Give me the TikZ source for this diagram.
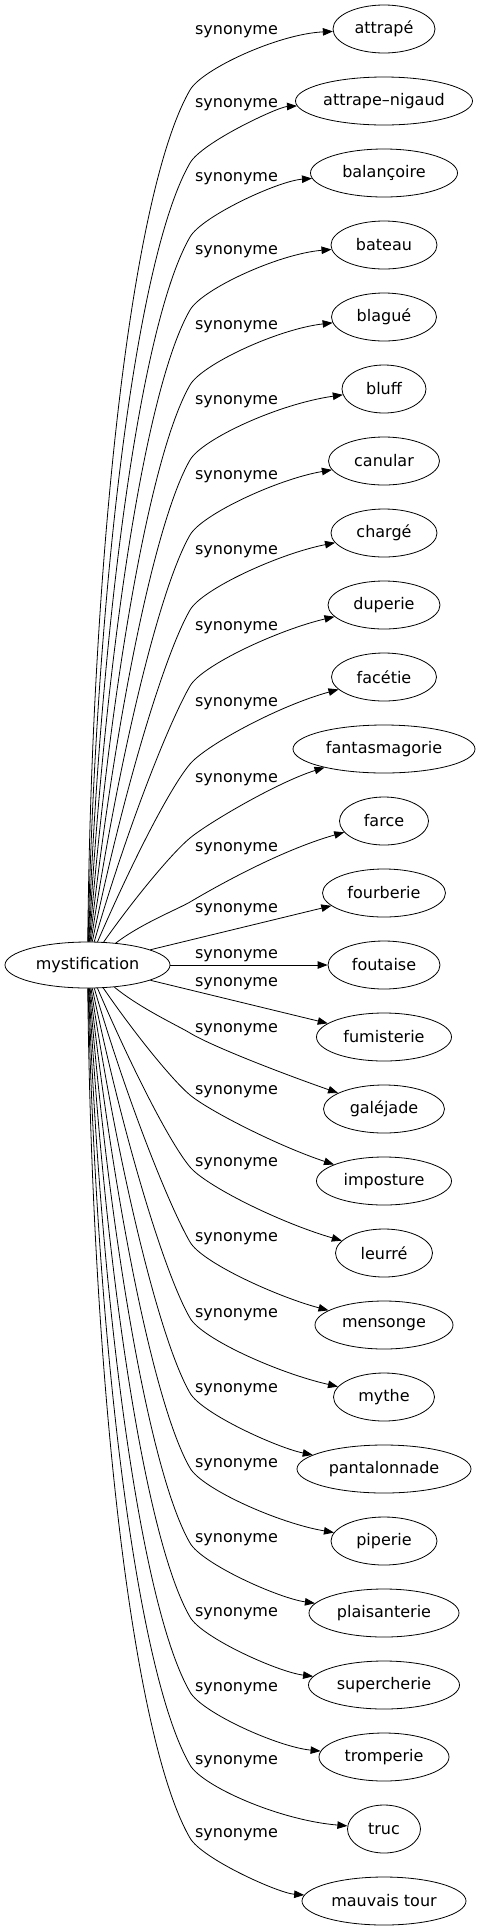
\documentclass[tikz,border=0pt]{standalone}
\usepackage{fontspec}
\setmainfont{DejaVu Sans}
\usetikzlibrary{arrows.meta,shapes.geometric}
\begin{document}
\begin{tikzpicture}[x=1pt,y=-1pt,
  every node/.style={font=\fontsize{16}{19}\selectfont},
  word/.style={draw, ellipse, inner sep=0pt, minimum height=48pt, line width=0.8pt},
  rel/.style={draw, line width=0.8pt, -{Triangle[length=10pt,width=7.5pt]}},
  lbl/.style={anchor=base, inner sep=0pt}]
\useasboundingbox (0,0) rectangle (479,1931);
\node[word, minimum width=165pt, minimum height=46pt] (m) at (87.5,965) {mystification};
\foreach \i/\w/\txt in {1/102/attrapé, 2/177/attrape–nigaud, 3/147/balançoire, 4/106/bateau,
  5/105/blagué, 6/84/bluff, 7/111/canular, 8/106/chargé, 9/112/duperie, 10/105/facétie,
  11/182/fantasmagorie, 12/89/farce, 13/123/fourberie, 14/112/foutaise, 15/135/fumisterie,
  16/121/galéjade, 17/135/imposture, 18/97/leurré, 19/138/mensonge, 20/101/mythe,
  21/174/pantalonnade, 22/106/piperie, 23/150/plaisanterie, 24/151/supercherie,
  25/130/tromperie, 26/73/truc, 27/164/mauvais tour} {
  \pgfmathsetmacro\ty{29+72*(\i-1)}
  \node[word, minimum width=\w pt] (t\i) at (384,\ty) {\txt};
}
% upper edges
\foreach \i/\lab/\off in {1/30/60, 2/103/60, 3/177/60, 4/250/60, 5/325/60, 6/400/60,
  7/475/60, 8/550/60, 9/626/60, 10/702/62, 11/778/60, 12/847/55} {
  \pgfmathsetmacro\Ky{\lab+\off}
  \pgfmathsetmacro\spn{942-\Ky}
  \pgfmathsetmacro\ff{min(1,\spn/250)}
  \pgfmathsetmacro\ang{25+35*\ff}
  \pgfmathsetmacro\ka{8+0.13*\spn}
  \pgfmathsetmacro\cax{90+0.06*(880-\spn)}
  \pgfmathsetmacro\cay{942-0.45*\spn}
  \pgfmathsetmacro\cbx{190-\ka*cos(\ang)}
  \pgfmathsetmacro\cby{\Ky+\ka*sin(\ang)}
  \pgfmathsetmacro\ccx{190+24*cos(\ang)}
  \pgfmathsetmacro\ccy{\Ky-24*sin(\ang)}
  \pgfmathsetmacro\qy{\lab+4}
  \draw[rel] (m) .. controls (\cax,\cay) and (\cbx,\cby) .. (190,\Ky)
     .. controls (\ccx,\ccy) and (278,\qy) .. (t\i);
  \node[lbl] (l\i) at (236.5,\lab+4.5) {synonyme};
}
% middle edges
\draw[rel] (m) -- (t13);
\node[lbl] (l13) at (236.5,912.5) {synonyme};
\draw[rel] (m) -- (t14);
\node[lbl] (l14) at (236.5,958.5) {synonyme};
\draw[rel] (m) -- (t15);
\node[lbl] (l15) at (236.5,986.5) {synonyme};
% lower edges
\foreach \i/\lab/\qo in {16/1028/44, 17/1090/56, 18/1162/60, 19/1237/60, 20/1313/60,
  21/1388/60, 22/1463/60, 23/1538/60, 24/1612/60, 25/1687/60, 26/1760/60, 27/1833/60} {
  \pgfmathsetmacro\Ky{\lab+5}
  \pgfmathsetmacro\spn{\Ky-988}
  \pgfmathsetmacro\ff{min(1,\spn/250)}
  \pgfmathsetmacro\ang{25+35*\ff}
  \pgfmathsetmacro\ka{8+0.13*\spn}
  \pgfmathsetmacro\cax{90+0.06*(880-\spn)}
  \pgfmathsetmacro\cay{988+0.45*\spn}
  \pgfmathsetmacro\cbx{190-\ka*cos(\ang)}
  \pgfmathsetmacro\cby{\Ky-\ka*sin(\ang)}
  \pgfmathsetmacro\ccx{190+24*cos(\ang)}
  \pgfmathsetmacro\ccy{\Ky+24*sin(\ang)}
  \pgfmathsetmacro\qy{\lab+\qo}
  \draw[rel] (m) .. controls (\cax,\cay) and (\cbx,\cby) .. (190,\Ky)
     .. controls (\ccx,\ccy) and (278,\qy) .. (t\i);
  \node[lbl] (l\i) at (236.5,\lab+4.5) {synonyme};
}
\end{tikzpicture}
\end{document}
